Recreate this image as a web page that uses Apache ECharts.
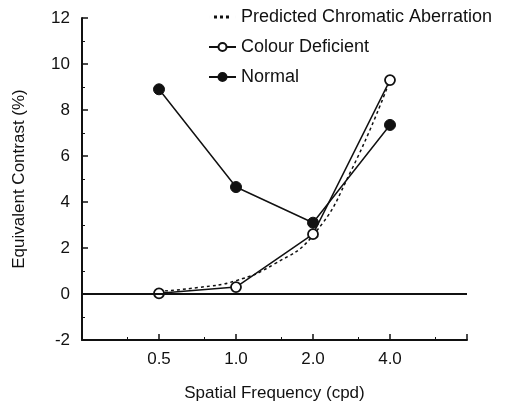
<!DOCTYPE html>
<html><head><meta charset="utf-8">
<script src="https://cdn.jsdelivr.net/npm/echarts@6/dist/echarts.min.js"></script>
<style>html,body{margin:0;padding:0;background:#fff}#c{width:505px;height:403px}</style>
</head><body><div id="c"></div>
<script>
var freqs = [0.5, 1.0, 2.0, 4.0];
var normal = [8.9, 4.65, 3.1, 7.35];
var colourDeficient = [0.03, 0.3, 2.6, 9.3];
var predictedFreqs = [0.5, 0.71, 1.0, 1.41, 2.0, 2.83, 4.0];
var predicted = [0.12, 0.28, 0.58, 1.3, 2.55, 5.4, 9.3];
var xTickLabels = {0.5: '0.5', 1: '1.0', 2: '2.0', 4: '4.0'};

function pairs(xs, ys){ return xs.map(function(x,i){ return [x, ys[i]]; }); }

var font = 'Liberation Sans, Arial, Helvetica, sans-serif';
var chart = echarts.init(document.getElementById('c'), null, {renderer:'canvas'});
chart.setOption({
  animation: false,
  backgroundColor: '#fff',
  textStyle: {fontFamily: font, color: '#111'},
  grid: {left: 82, right: 38, top: 18, bottom: 63, containLabel: false, outerBoundsMode: 'none'},
  legend: {
    orient: 'vertical', left: 203, top: 3, itemGap: 12, itemWidth: 27, itemHeight: 10,
    textStyle: {fontSize: 18, color: '#111', fontFamily: font},
    data: [
      {name: 'Predicted Chromatic Aberration',
       icon: 'path://M0,0h0.01v3h-0.01zM27,0h0.01v3h-0.01zM5,0h3v3h-3zM11,0h3v3h-3zM17,0h3v3h-3z',
       itemStyle: {color: '#111'}},
      'Colour Deficient', 'Normal']
  },
  xAxis: {
    type: 'log', logBase: 2, min: 0.25, max: 8,
    name: 'Spatial Frequency (cpd)', nameLocation: 'middle', nameGap: 45,
    nameTextStyle: {fontSize: 17, color: '#111', fontFamily: font},
    axisLine: {onZero: false, lineStyle: {color: '#111', width: 2}},
    axisTick: {inside: true, length: 6, lineStyle: {color: '#111', width: 1.5}},
    minorTick: {show: true, splitNumber: 2, length: 3, lineStyle: {color: '#111'}},
    splitLine: {show: false},
    axisLabel: {fontSize: 17, color: '#111', margin: 11, fontFamily: font,
      formatter: function(v){ var k = Math.round(v*100)/100; return xTickLabels[k] || ''; }}
  },
  yAxis: {
    type: 'value', min: -2, max: 12, interval: 2,
    name: 'Equivalent Contrast (%)', nameLocation: 'middle', nameGap: 54,
    nameTextStyle: {fontSize: 17, color: '#111', fontFamily: font},
    axisLine: {show: true, lineStyle: {color: '#111', width: 2}},
    axisTick: {show: true, inside: true, length: 6, lineStyle: {color: '#111', width: 1.5}},
    minorTick: {show: true, splitNumber: 2, length: 3, lineStyle: {color: '#111'}},
    splitLine: {show: false},
    axisLabel: {fontSize: 17, color: '#111', margin: 12, fontFamily: font}
  },
  series: [
    {
      name: 'Predicted Chromatic Aberration', type: 'line', smooth: true,
      data: pairs(predictedFreqs, predicted), showSymbol: false, symbol: 'none',
      lineStyle: {color: '#111', width: 1.5, type: [3, 3]}, itemStyle: {color: '#111'},
      markLine: {silent: true, symbol: 'none', label: {show: false},
        lineStyle: {color: '#111', width: 2, type: 'solid'}, data: [{yAxis: 0}]}
    },
    {
      name: 'Colour Deficient', type: 'line', data: pairs(freqs, colourDeficient),
      symbol: 'circle', symbolSize: 10,
      lineStyle: {color: '#111', width: 1.5},
      itemStyle: {color: '#fff', borderColor: '#111', borderWidth: 1.8}
    },
    {
      name: 'Normal', type: 'line', data: pairs(freqs, normal),
      symbol: 'circle', symbolSize: 11,
      lineStyle: {color: '#111', width: 1.5},
      itemStyle: {color: '#111', borderColor: '#111', borderWidth: 1}
    }
  ]
});
</script></body></html>
